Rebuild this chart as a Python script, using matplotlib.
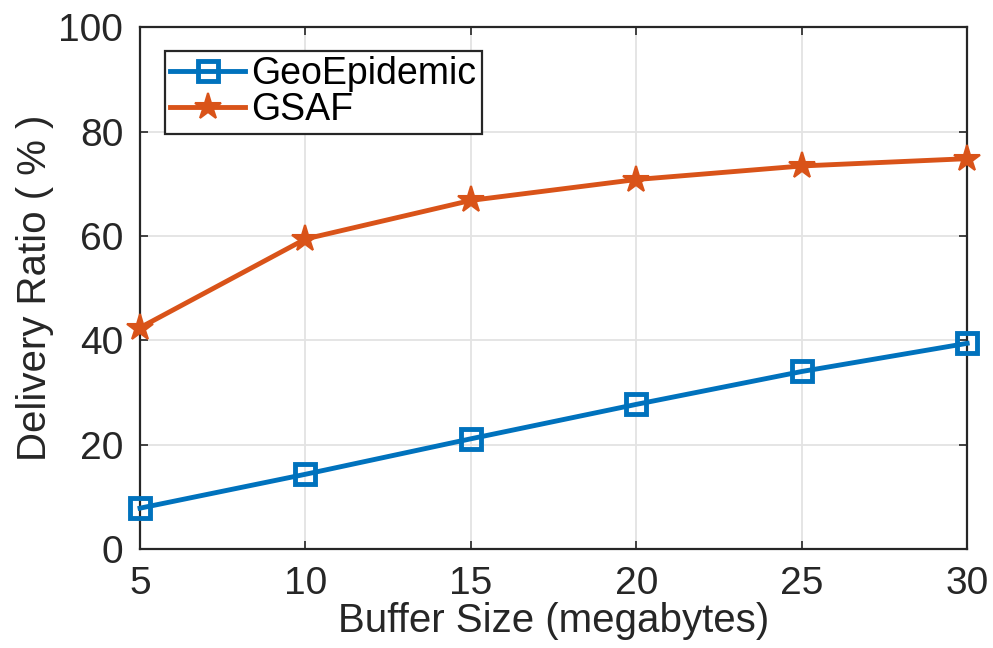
import matplotlib
matplotlib.use("Agg")
import matplotlib.pyplot as plt

plt.rcParams['font.family'] = ['Liberation Sans', 'DejaVu Sans']

# data
buffer_size = [5, 10, 15, 20, 25, 30]
geo_epidemic = [7.8, 14.3, 21.1, 27.7, 34.0, 39.4]
gsaf = [42.4, 59.4, 66.8, 70.8, 73.4, 74.8]

x_ticks = [5, 10, 15, 20, 25, 30]
y_ticks = [0, 20, 40, 60, 80, 100]

blue = '#0072BD'
orange = '#D95319'
dark = '#262626'

fig = plt.figure(figsize=(9.93, 6.48), dpi=100)
ax = fig.add_axes([0.141, 0.153, 0.833, 0.805])

ax.plot(buffer_size, geo_epidemic, marker='s', color=blue, linewidth=3.5,
        markersize=15, markerfacecolor='none', markeredgewidth=3.5,
        label='GeoEpidemic', clip_on=False, zorder=3)
ax.plot(buffer_size, gsaf, marker='*', color=orange, linewidth=3.5,
        markersize=20, markeredgewidth=1.5, label='GSAF', clip_on=False, zorder=3)

ax.set_xlim(5, 30)
ax.set_ylim(0, 100)
ax.set_xticks(x_ticks)
ax.set_yticks(y_ticks)
ax.tick_params(direction='in', labelsize=28, length=6, width=1.2,
               top=True, right=True, colors=dark)
ax.tick_params(axis='x', pad=12)
ax.tick_params(axis='y', pad=12)
ax.grid(True, color='#e3e3e3', linewidth=1.3)
ax.set_axisbelow(True)
for s in ax.spines.values():
    s.set_linewidth(1.6)
    s.set_color(dark)

ax.set_xlabel('Buffer Size (megabytes)', fontsize=29, color=dark, labelpad=0)
ax.set_ylabel('Delivery Ratio ( % )', fontsize=29, color=dark, labelpad=3)

leg = ax.legend(loc='upper left', bbox_to_anchor=(0.03, 0.955), fontsize=27,
                fancybox=False, framealpha=1, edgecolor=dark,
                handlelength=2.0, handletextpad=0.15, borderpad=0.15,
                labelspacing=0.0, borderaxespad=0)
leg.get_frame().set_linewidth(1.6)

fig.savefig('out.png', dpi=100)
